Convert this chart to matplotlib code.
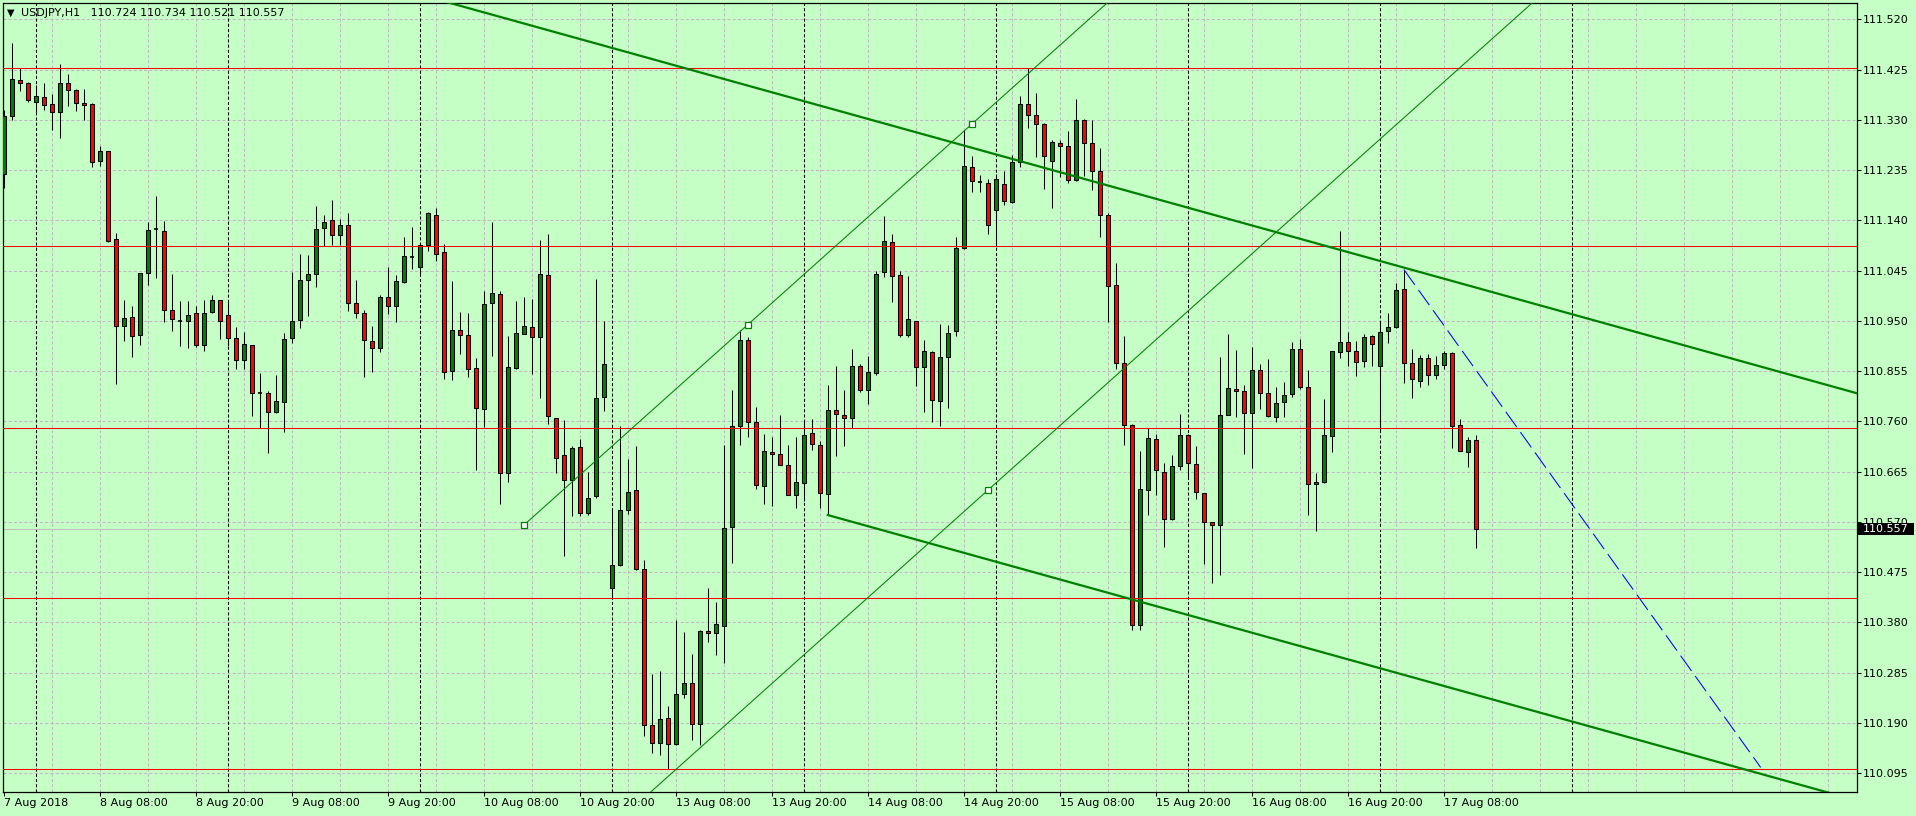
import matplotlib
matplotlib.use('Agg')
import matplotlib.pyplot as plt
from matplotlib.patches import Rectangle
from matplotlib.transforms import blended_transform_factory
import numpy as np
import pandas as pd

# USDJPY H1 candles, 7 Aug 2018 20:00 .. 17 Aug 2018 12:00 (weekend skipped)
opens = [111.228, 111.337, 111.406, 111.400, 111.364, 111.374, 111.359, 111.345, 111.400, 111.387,
         111.362, 111.359, 111.252, 111.271, 111.105, 110.940, 110.957, 110.923, 111.040, 111.123,
         111.120, 110.970, 110.950, 110.949, 110.964, 110.904, 110.966, 110.989, 110.962, 110.917,
         110.877, 110.904, 110.814, 110.813, 110.778, 110.797, 110.917, 110.951, 111.028, 111.039,
         111.125, 111.140, 111.112, 111.131, 110.983, 110.964, 110.912, 110.899, 110.996, 110.979,
         111.024, 111.071, 111.051, 111.094, 111.151, 111.081, 110.856, 110.933, 110.924, 110.861,
         110.783, 110.983, 111.000, 110.662, 110.861, 110.926, 110.939, 110.920, 111.036, 110.766,
         110.696, 110.649, 110.711, 110.586, 110.619, 110.806, 110.446, 110.488, 110.592, 110.631,
         110.481, 110.186, 110.153, 110.200, 110.150, 110.244, 110.265, 110.188, 110.364, 110.361,
         110.373, 110.560, 110.751, 110.914, 110.758, 110.638, 110.702, 110.699, 110.678, 110.621,
         110.643, 110.739, 110.716, 110.623, 110.782, 110.773, 110.766, 110.865, 110.820, 110.851,
         111.042, 111.099, 111.036, 110.924, 110.949, 110.863, 110.892, 110.799, 110.881, 110.930,
         111.087, 111.241, 111.213, 111.211, 111.160, 111.209, 111.175, 111.251, 111.359, 111.340,
         111.323, 111.253, 111.287, 111.281, 111.217, 111.329, 111.287, 111.234, 111.151, 111.018,
         110.870, 110.754, 110.375, 110.630, 110.726, 110.665, 110.575, 110.675, 110.735, 110.679,
         110.624, 110.569, 110.565, 110.773, 110.821, 110.817, 110.775, 110.857, 110.813, 110.768,
         110.796, 110.811, 110.896, 110.825, 110.641, 110.646, 110.732, 110.891, 110.911, 110.894,
         110.875, 110.921, 110.865, 110.930, 110.939, 111.010, 110.870, 110.837, 110.879, 110.847,
         110.866, 110.889, 110.754, 110.703, 110.724]
highs = [111.348, 111.475, 111.428, 111.401, 111.395, 111.399, 111.378, 111.435, 111.416, 111.388,
         111.389, 111.362, 111.280, 111.272, 111.116, 110.990, 110.979, 111.041, 111.137, 111.187,
         111.139, 111.038, 110.988, 110.988, 110.979, 110.990, 110.999, 110.990, 110.986, 110.938,
         110.929, 110.904, 110.851, 110.817, 110.847, 110.928, 111.043, 111.076, 111.074, 111.167,
         111.150, 111.179, 111.142, 111.153, 111.027, 110.970, 110.940, 110.998, 111.052, 111.036,
         111.108, 111.127, 111.096, 111.155, 111.163, 111.095, 111.025, 110.966, 110.964, 110.880,
         111.007, 111.137, 111.006, 110.921, 110.988, 110.996, 110.992, 111.103, 111.114, 110.767,
         110.763, 110.713, 110.727, 110.664, 111.029, 110.950, 110.592, 110.751, 110.689, 110.713,
         110.499, 110.282, 110.289, 110.223, 110.384, 110.362, 110.320, 110.365, 110.445, 110.418,
         110.716, 110.820, 110.933, 110.920, 110.788, 110.737, 110.731, 110.773, 110.716, 110.731,
         110.761, 110.765, 110.723, 110.828, 110.865, 110.819, 110.896, 110.869, 110.884, 111.045,
         111.149, 111.114, 111.045, 111.034, 110.950, 110.913, 110.893, 110.945, 110.942, 111.108,
         111.311, 111.262, 111.226, 111.218, 111.227, 111.233, 111.264, 111.376, 111.428, 111.380,
         111.324, 111.292, 111.291, 111.308, 111.369, 111.332, 111.330, 111.276, 111.154, 111.059,
         110.922, 110.755, 110.705, 110.747, 110.737, 110.681, 110.697, 110.774, 110.736, 110.713,
         110.625, 110.570, 110.881, 110.925, 110.895, 110.828, 110.900, 110.869, 110.878, 110.826,
         110.835, 110.910, 110.915, 110.857, 110.662, 110.802, 110.893, 111.119, 110.929, 110.912,
         110.925, 110.923, 110.949, 110.965, 111.021, 111.047, 110.896, 110.886, 110.888, 110.884,
         110.894, 110.891, 110.765, 110.730, 110.734]
lows = [111.201, 111.330, 111.385, 111.364, 111.345, 111.348, 111.311, 111.295, 111.356, 111.347,
        111.330, 111.240, 111.242, 111.099, 110.831, 110.912, 110.882, 110.904, 111.017, 111.032,
        110.947, 110.931, 110.903, 110.899, 110.901, 110.893, 110.964, 110.916, 110.902, 110.859,
        110.859, 110.770, 110.748, 110.700, 110.775, 110.740, 110.909, 110.937, 110.959, 111.014,
        111.092, 111.093, 111.093, 110.969, 110.955, 110.844, 110.854, 110.891, 110.963, 110.948,
        111.022, 111.048, 111.037, 111.082, 111.063, 110.840, 110.838, 110.888, 110.844, 110.669,
        110.749, 110.884, 110.603, 110.645, 110.860, 110.925, 110.849, 110.804, 110.755, 110.662,
        110.505, 110.581, 110.581, 110.584, 110.615, 110.780, 110.427, 110.487, 110.585, 110.479,
        110.166, 110.134, 110.129, 110.103, 110.148, 110.238, 110.157, 110.148, 110.344, 110.318,
        110.303, 110.492, 110.716, 110.730, 110.632, 110.604, 110.600, 110.677, 110.621, 110.596,
        110.609, 110.706, 110.596, 110.583, 110.695, 110.713, 110.747, 110.815, 110.792, 110.848,
        111.033, 110.986, 110.919, 110.919, 110.827, 110.777, 110.759, 110.751, 110.785, 110.922,
        111.085, 111.194, 111.194, 111.114, 111.092, 111.169, 111.172, 111.241, 111.314, 111.260,
        111.200, 111.163, 111.222, 111.211, 111.214, 111.223, 111.197, 111.108, 110.948, 110.859,
        110.716, 110.365, 110.365, 110.584, 110.621, 110.523, 110.573, 110.669, 110.655, 110.613,
        110.490, 110.455, 110.470, 110.772, 110.769, 110.698, 110.672, 110.783, 110.769, 110.758,
        110.769, 110.806, 110.821, 110.584, 110.552, 110.644, 110.703, 110.879, 110.864, 110.845,
        110.862, 110.864, 110.741, 110.909, 110.937, 110.833, 110.805, 110.826, 110.829, 110.841,
        110.860, 110.710, 110.705, 110.673, 110.521]
closes = [111.337, 111.408, 111.400, 111.368, 111.376, 111.358, 111.345, 111.400, 111.386, 111.362,
          111.358, 111.251, 111.271, 111.101, 110.940, 110.955, 110.921, 111.040, 111.122, 111.123,
          110.970, 110.953, 110.950, 110.962, 110.905, 110.964, 110.989, 110.949, 110.917, 110.877,
          110.906, 110.814, 110.814, 110.777, 110.799, 110.915, 110.949, 111.027, 111.038, 111.123,
          111.136, 111.112, 111.131, 110.983, 110.964, 110.914, 110.899, 110.996, 110.979, 111.026,
          111.072, 111.071, 111.093, 111.153, 111.077, 110.854, 110.933, 110.924, 110.859, 110.785,
          110.981, 111.002, 110.662, 110.863, 110.928, 110.941, 110.920, 111.038, 110.770, 110.691,
          110.649, 110.710, 110.586, 110.615, 110.804, 110.869, 110.488, 110.592, 110.626, 110.481,
          110.186, 110.153, 110.198, 110.150, 110.244, 110.265, 110.188, 110.364, 110.361, 110.377,
          110.559, 110.751, 110.914, 110.758, 110.640, 110.704, 110.699, 110.678, 110.621, 110.645,
          110.735, 110.718, 110.625, 110.782, 110.774, 110.766, 110.865, 110.820, 110.854, 111.039,
          111.101, 111.035, 110.924, 110.953, 110.862, 110.894, 110.801, 110.882, 110.928, 111.087,
          111.243, 111.215, 111.213, 111.131, 111.218, 111.177, 111.251, 111.359, 111.340, 111.323,
          111.262, 111.288, 111.280, 111.217, 111.329, 111.287, 111.234, 111.151, 111.016, 110.870,
          110.754, 110.375, 110.632, 110.728, 110.669, 110.575, 110.675, 110.735, 110.681, 110.627,
          110.570, 110.564, 110.773, 110.823, 110.817, 110.775, 110.857, 110.813, 110.771, 110.794,
          110.809, 110.896, 110.826, 110.641, 110.645, 110.734, 110.893, 110.910, 110.894, 110.872,
          110.919, 110.906, 110.929, 110.938, 111.008, 110.870, 110.840, 110.879, 110.847, 110.866,
          110.889, 110.751, 110.705, 110.724, 110.557]

# horizontal levels and drawn objects (bar index, price)
levels = [111.428, 111.091, 110.747, 110.427, 110.103]
trend_thick = [(112, 111.315), (184, 111.013)]
trend_thick_par = (103, 110.583)
trend_thin = [(65, 110.564), (121, 111.322)]
trend_thin_par = (123, 110.630)
thin_marks = [65, 93, 121]
blue_line = [(175, 111.047), (219.6, 110.106)]

BG = '#C5FFC5'
GRID = '#C2B8C6'
BULL = '#008000'
BEAR = '#FF0000'

plt.rcParams['font.family'] = ['DejaVu Sans']
plt.rcParams['font.size'] = 8

times = pd.date_range('2018-08-07 20:00', '2018-08-17 12:00', freq='h')
times = times[times.weekday < 5]
n = len(closes)
x_max = 231.6

fig = plt.figure(figsize=(19.16, 8.16), dpi=100, facecolor=BG)
ax = fig.add_axes([2.7 / 1916, 1 - 792 / 816, (1856.7 - 2.7) / 1916, (792 - 2.7) / 816])
ax.set_facecolor(BG)
ax.set_xlim(-0.14, x_max)
ax.set_ylim(110.0596, 111.5514)

# grid
price_ticks = np.round(110.095 + 0.095 * np.arange(16), 3)
for p in price_ticks:
    ax.axhline(p, color=GRID, lw=0.75, ls=(0, (3, 2)), zorder=1)
for b in range(6, int(x_max) + 1, 6):
    ax.axvline(b, color=GRID, lw=0.75, ls=(0, (3, 2)), zorder=1)

# day separators (only the next day boundary in the empty future area)
fut = pd.date_range(times[-1], periods=24, freq='h')[1:]
all_times = times.append(fut)
for b, t in enumerate(all_times):
    if t.hour == 0:
        ax.axvline(b, color='black', lw=0.75, ls=(0, (3, 2)), zorder=1.5)

# current price line
ax.axhline(closes[-1], color='#C0C0C0', lw=0.75, zorder=2)

# candles
w = 0.56
for i in range(n):
    o, h, l, c = opens[i], highs[i], lows[i], closes[i]
    ax.vlines(i, l, h, color='black', lw=0.75, zorder=3)
    if abs(c - o) < 0.0015:
        ax.hlines(o, i - w / 2, i + w / 2, color='black', lw=1.2, zorder=4)
    else:
        ax.add_patch(Rectangle((i - w / 2, min(o, c)), w, abs(c - o),
                               facecolor=BULL if c > o else BEAR, edgecolor='black',
                               lw=0.75, zorder=4))

# horizontal levels
for lv in levels:
    ax.axhline(lv, color='red', lw=0.75, zorder=5)


def line_pts(p1, p2, x0, x1):
    k = (p2[1] - p1[1]) / (p2[0] - p1[0])
    return [x0, x1], [p1[1] + k * (x0 - p1[0]), p1[1] + k * (x1 - p1[0])], k


xs, ys, k1 = line_pts(trend_thick[0], trend_thick[1], 40, x_max + 1)
ax.plot(xs, ys, color=BULL, lw=1.6, zorder=6, solid_capstyle='butt')
bx, by = trend_thick_par
ax.plot([bx, x_max + 1], [by, by + k1 * (x_max + 1 - bx)], color=BULL, lw=1.6, zorder=6)

xs, ys, k2 = line_pts(trend_thin[0], trend_thin[1], trend_thin[0][0], x_max + 1)
ax.plot(xs, ys, color=BULL, lw=0.75, zorder=6)
cx, cy = trend_thin_par
ax.plot([trend_thin[0][0], x_max + 1],
        [cy + k2 * (trend_thin[0][0] - cx), cy + k2 * (x_max + 1 - cx)], color=BULL, lw=0.75, zorder=6)
mk_x = thin_marks + [cx]
mk_y = [trend_thin[0][1] + k2 * (m - trend_thin[0][0]) for m in thin_marks] + [cy]
ax.plot(mk_x, mk_y, ls='none', marker='s', ms=4.2, mfc='white', mec=BULL, mew=0.9, zorder=7)

ax.plot([p[0] for p in blue_line], [p[1] for p in blue_line], color='blue', lw=0.75,
        ls=(0, (18, 6)), zorder=6)

# axes styling
for s in ax.spines.values():
    s.set_color('black')
    s.set_linewidth(0.9)
ax.yaxis.tick_right()
ax.set_yticks(price_ticks)
ax.set_yticklabels([f'{p:.3f}' for p in price_ticks])
label_bars = list(range(0, n, 12))
lbls = []
for b in label_bars:
    t = times[b]
    lbls.append(f'{t.day} Aug 2018' if b == 0 else f'{t.day} {t.strftime("%b %H:%M")}')
ax.set_xticks(label_bars)
ax.set_xticklabels(lbls)
for t in ax.get_xticklabels():
    t.set_ha('left')
ax.tick_params(axis='y', length=3, width=0.75, pad=1.5, colors='black', labelsize=8)
ax.tick_params(axis='x', length=3, width=0.75, pad=1.5, colors='black', labelsize=8)

# last price marker on the price scale
trans = blended_transform_factory(ax.transAxes, ax.transData)
ax_h_px = (792 - 2.7)
unit = (111.5514 - 110.0596) / ax_h_px
ax.add_patch(Rectangle((1 + 1.3 / 1854, closes[-1] - 6.2 * unit), 56 / 1854, 12.4 * unit,
                       transform=trans, facecolor='black', edgecolor='none', clip_on=False, zorder=10))
ax.text(1 + 6.3 / 1854, closes[-1], f'{closes[-1]:.3f}', transform=trans, color='white',
        va='center', ha='left', fontsize=8, zorder=11, clip_on=False)

# header
fig.text(6.5 / 1916, 1 - 13 / 816, '\u25bc', fontsize=7, va='center', ha='left')
fig.text(21 / 1916, 1 - 13 / 816,
         f'USDJPY,H1   {opens[-1]:.3f} {highs[-1]:.3f} {lows[-1]:.3f} {closes[-1]:.3f}',
         fontsize=8, va='center', ha='left')

fig.savefig('out.png', dpi=100, facecolor=BG)
